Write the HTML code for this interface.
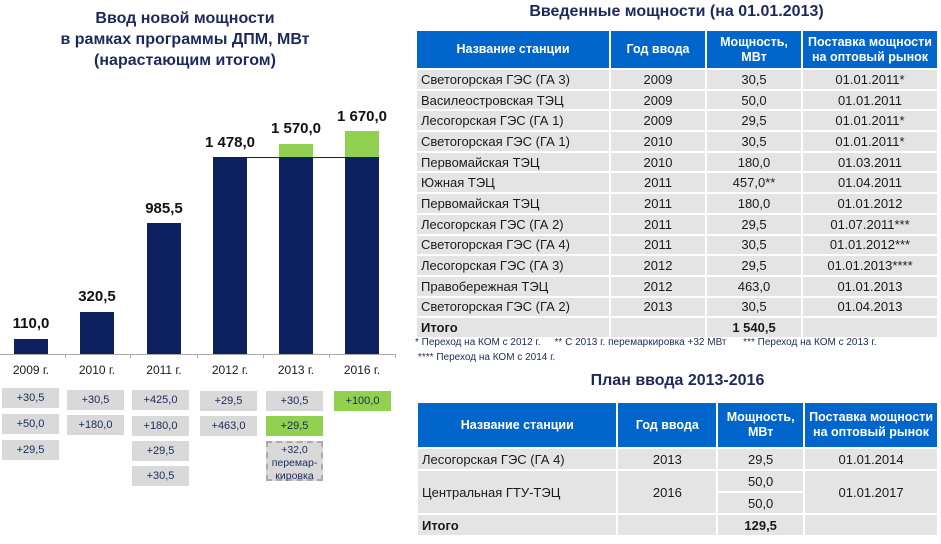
<!DOCTYPE html>
<html style="width:941px;height:544px;overflow:hidden"><head><meta charset="utf-8"><style>
*{margin:0;padding:0;box-sizing:border-box}
body{width:941px;height:544px;background:#fff;position:relative;overflow:hidden;font-family:"Liberation Sans Narrow","Liberation Sans",sans-serif;color:#1a1a1a}
.a{position:absolute}
.t{color:#1b2a5c;font-weight:bold;text-align:center}
.bar{position:absolute;background:#0d2160}
.g{position:absolute;background:#92d050}
.v{position:absolute;font-weight:bold;font-size:15px;color:#111;text-align:center;width:80px}
.yr{position:absolute;font-size:12px;text-align:center;width:60px;top:363px}
.bx{position:absolute;background:#d9d9d9;font-size:11px;color:#1b2a5c;text-align:center;width:57px;height:20px;line-height:20px}
.bx.gr{background:#92d050}
table{position:absolute;border-collapse:collapse;font-size:13px}
td,th{border:2px solid #fff;background:#e4e4e4;padding:0 4px;white-space:nowrap}
th{background:#0066cc;color:#fff;font-size:12.5px;line-height:15px}
td{text-align:center}
td.l{text-align:left}
</style></head><body>
<div class="a t" style="left:40px;top:8px;width:290px;font-size:16px;line-height:21px">Ввод новой мощности<br>в рамках программы ДПМ, МВт<br>(нарастающим итогом)</div>

<div class="a" style="left:0;top:354px;width:396px;height:1px;background:#aaa"></div>
<div class="a" style="left:65px;top:354px;width:1px;height:4px;background:#aaa"></div>
<div class="a" style="left:130px;top:354px;width:1px;height:4px;background:#aaa"></div>
<div class="a" style="left:197px;top:354px;width:1px;height:4px;background:#aaa"></div>
<div class="a" style="left:263px;top:354px;width:1px;height:4px;background:#aaa"></div>
<div class="a" style="left:329px;top:354px;width:1px;height:4px;background:#aaa"></div>
<div class="a" style="left:395px;top:354px;width:1px;height:4px;background:#aaa"></div>

<div class="bar" style="left:14px;top:339px;width:34px;height:15px"></div>
<div class="bar" style="left:80px;top:312px;width:34px;height:42px"></div>
<div class="bar" style="left:147px;top:223px;width:34px;height:131px"></div>
<div class="bar" style="left:213px;top:157px;width:34px;height:197px"></div>
<div class="bar" style="left:279px;top:157px;width:34px;height:197px"></div>
<div class="g" style="left:279px;top:144px;width:34px;height:13px"></div>
<div class="bar" style="left:345px;top:157px;width:34px;height:197px"></div>
<div class="g" style="left:345px;top:131px;width:34px;height:26px"></div>
<div class="a" style="left:247px;top:157px;width:132px;height:1px;background:#0d2160"></div>

<div class="v" style="left:-9px;top:315px">110,0</div>
<div class="v" style="left:57px;top:288px">320,5</div>
<div class="v" style="left:124px;top:200px">985,5</div>
<div class="v" style="left:190px;top:134px">1 478,0</div>
<div class="v" style="left:256px;top:120px">1 570,0</div>
<div class="v" style="left:322px;top:108px">1 670,0</div>

<div class="yr" style="left:1px">2009 г.</div>
<div class="yr" style="left:67px">2010 г.</div>
<div class="yr" style="left:134px">2011 г.</div>
<div class="yr" style="left:200px">2012 г.</div>
<div class="yr" style="left:266px">2013 г.</div>
<div class="yr" style="left:332px">2016 г.</div>

<div class="bx" style="left:2px;top:388px">+30,5</div>
<div class="bx" style="left:2px;top:414px">+50,0</div>
<div class="bx" style="left:2px;top:440px">+29,5</div>
<div class="bx" style="left:67px;top:390px">+30,5</div>
<div class="bx" style="left:67px;top:415px">+180,0</div>
<div class="bx" style="left:132px;top:390px">+425,0</div>
<div class="bx" style="left:132px;top:416px">+180,0</div>
<div class="bx" style="left:132px;top:441px">+29,5</div>
<div class="bx" style="left:132px;top:466px">+30,5</div>
<div class="bx" style="left:200px;top:391px">+29,5</div>
<div class="bx" style="left:200px;top:416px">+463,0</div>
<div class="bx" style="left:266px;top:391px">+30,5</div>
<div class="bx gr" style="left:266px;top:416px">+29,5</div>
<div class="bx" style="left:266px;top:441px;height:40px;line-height:13px;padding-top:1px;border:2px dashed #aaa;font-size:10.5px">+32,0<br>перемар-<br>кировка</div>
<div class="bx gr" style="left:334px;top:391px">+100,0</div>

<div class="a t" style="left:416px;top:3px;width:521px;font-size:16px">Введенные мощности (на 01.01.2013)</div>
<table style="left:415px;top:29px;width:524px">
<tr style="height:39px"><th style="width:194px">Название станции</th><th style="width:96px">Год ввода</th><th style="width:96px">Мощность,<br>МВт</th><th>Поставка мощности<br>на оптовый рынок</th></tr>
<tr style="height:20.7px"><td class="l">Светогорская ГЭС (ГА 3)</td><td>2009</td><td>30,5</td><td>01.01.2011*</td></tr>
<tr style="height:20.7px"><td class="l">Василеостровская ТЭЦ</td><td>2009</td><td>50,0</td><td>01.01.2011</td></tr>
<tr style="height:20.7px"><td class="l">Лесогорская ГЭС (ГА 1)</td><td>2009</td><td>29,5</td><td>01.01.2011*</td></tr>
<tr style="height:20.7px"><td class="l">Светогорская ГЭС (ГА 1)</td><td>2010</td><td>30,5</td><td>01.01.2011*</td></tr>
<tr style="height:20.7px"><td class="l">Первомайская ТЭЦ</td><td>2010</td><td>180,0</td><td>01.03.2011</td></tr>
<tr style="height:20.7px"><td class="l">Южная ТЭЦ</td><td>2011</td><td>457,0**</td><td>01.04.2011</td></tr>
<tr style="height:20.7px"><td class="l">Первомайская ТЭЦ</td><td>2011</td><td>180,0</td><td>01.01.2012</td></tr>
<tr style="height:20.7px"><td class="l">Лесогорская ГЭС (ГА 2)</td><td>2011</td><td>29,5</td><td>01.07.2011***</td></tr>
<tr style="height:20.7px"><td class="l">Светогорская ГЭС (ГА 4)</td><td>2011</td><td>30,5</td><td>01.01.2012***</td></tr>
<tr style="height:20.7px"><td class="l">Лесогорская ГЭС (ГА 3)</td><td>2012</td><td>29,5</td><td>01.01.2013****</td></tr>
<tr style="height:20.7px"><td class="l">Правобережная ТЭЦ</td><td>2012</td><td>463,0</td><td>01.01.2013</td></tr>
<tr style="height:20.7px"><td class="l">Светогорская ГЭС (ГА 2)</td><td>2013</td><td>30,5</td><td>01.04.2013</td></tr>
<tr style="height:21px"><td class="l" style="font-weight:bold">Итого</td><td></td><td style="font-weight:bold">1 540,5</td><td></td></tr>
</table>
<div class="a" style="left:415px;top:337px;font-size:10px;white-space:pre;color:#1b2a5c">* Переход на КОМ с 2012 г.     ** С 2013 г. перемаркировка +32 МВт      *** Переход на КОМ с 2013 г.</div>
<div class="a" style="left:418px;top:352px;font-size:10px;color:#1b2a5c">**** Переход на КОМ с 2014 г.</div>

<div class="a t" style="left:418px;top:372px;width:519px;font-size:16px">План ввода 2013-2016</div>
<table style="left:416px;top:401px;width:523px">
<tr style="height:46px"><th style="width:201px">Название станции</th><th style="width:100px">Год ввода</th><th style="width:87px">Мощность,<br>МВт</th><th>Поставка мощности<br>на оптовый рынок</th></tr>
<tr style="height:22px"><td class="l">Лесогорская ГЭС (ГА 4)</td><td>2013</td><td>29,5</td><td>01.01.2014</td></tr>
<tr style="height:22px"><td class="l" rowspan="2">Центральная ГТУ-ТЭЦ</td><td rowspan="2">2016</td><td>50,0</td><td rowspan="2">01.01.2017</td></tr>
<tr style="height:22px"><td>50,0</td></tr>
<tr style="height:22px"><td class="l" style="font-weight:bold">Итого</td><td></td><td style="font-weight:bold">129,5</td><td></td></tr>
</table>
</body></html>
